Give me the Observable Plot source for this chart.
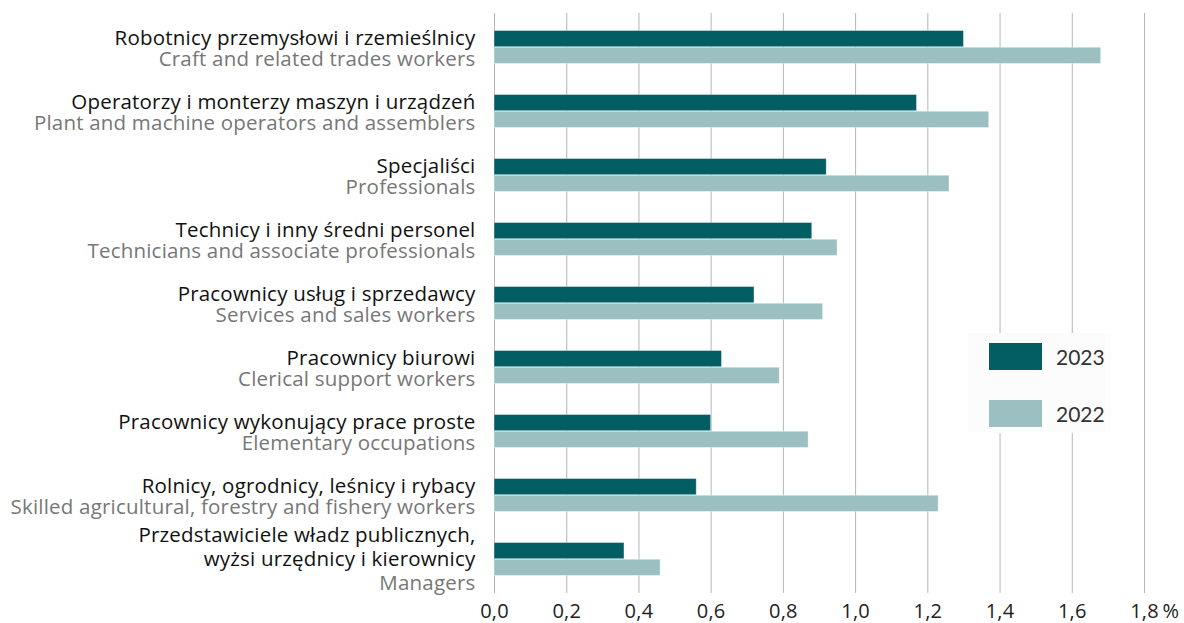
<!DOCTYPE html>
<html>
<head>
<meta charset="utf-8">
<script src="https://cdn.jsdelivr.net/npm/d3@7"></script>
<script src="https://cdn.jsdelivr.net/npm/@observablehq/plot@0.6"></script>
<style>
  html, body { margin: 0; padding: 0; background: #fff; }
  #wrap { position: relative; width: 1184px; height: 623px; }
  #wrap svg text { letter-spacing: 0.2px; }
  #legend {
    position: absolute; left: 968px; top: 333px; width: 143px; height: 100px;
    background: #fcfcfc; font-family: Lato, "Open Sans", sans-serif; font-size: 21px; color: #333;
  }
  .item { position: absolute; left: 21px; display: flex; align-items: center; }
  .sw { width: 53px; height: 27px; margin-right: 14px; }
</style>
</head>
<body>
<div id="wrap"></div>
<script>
const categoriesPL = [
  "Robotnicy przemysłowi i rzemieślnicy",
  "Operatorzy i monterzy maszyn i urządzeń",
  "Specjaliści",
  "Technicy i inny średni personel",
  "Pracownicy usług i sprzedawcy",
  "Pracownicy biurowi",
  "Pracownicy wykonujący prace proste",
  "Rolnicy, ogrodnicy, leśnicy i rybacy",
  "Przedstawiciele władz publicznych,\nwyżsi urzędnicy i kierownicy"
];
const categoriesEN = [
  "Craft and related trades workers",
  "Plant and machine operators and assemblers",
  "Professionals",
  "Technicians and associate professionals",
  "Services and sales workers",
  "Clerical support workers",
  "Elementary occupations",
  "Skilled agricultural, forestry and fishery workers",
  "Managers"
];
const values2023 = [1.30, 1.17, 0.92, 0.88, 0.72, 0.63, 0.60, 0.56, 0.36];
const values2022 = [1.68, 1.37, 1.26, 0.95, 0.91, 0.79, 0.87, 1.23, 0.46];
const years = ["2023", "2022"];
const colors = ["#035e63", "#9cc0c2"];
const xTicks = [0, 0.2, 0.4, 0.6, 0.8, 1.0, 1.2, 1.4, 1.6, 1.8];
const unitLabel = "%";

const rows = categoriesPL.map((c, i) => ({cat: c, en: categoriesEN[i], v2023: values2023[i], v2022: values2022[i], multi: c.includes("\n")}));
const font = "'Open Sans', 'Noto Sans', sans-serif";
const fs = 20.5;

const chart = Plot.plot({
  width: 1184,
  height: 623,
  marginLeft: 494,
  marginRight: 40,
  marginTop: 13,
  marginBottom: 30,
  style: {fontFamily: font, fontSize: fs + "px", color: "#222", background: "white"},
  x: {domain: [xTicks[0], xTicks[xTicks.length - 1]]},
  y: {domain: categoriesPL, padding: 0, axis: null},
  marks: [
    Plot.gridX(xTicks, {stroke: "#b5b5b5", strokeOpacity: 1, strokeWidth: 1}),
    Plot.barX(rows, {x: "v2023", y: "cat", fill: colors[0], insetTop: 15.5, insetBottom: 32.2, stroke: "#fff", strokeOpacity: 0.5, strokeWidth: 0.8}),
    Plot.barX(rows, {x: "v2022", y: "cat", fill: colors[1], insetTop: 32.2, insetBottom: 15.5, stroke: "#fff", strokeOpacity: 0.5, strokeWidth: 0.8}),
    Plot.axisX(xTicks, {tickSize: 0, tickPadding: 10, tickFormat: d => d.toFixed(1).replace(".", ","), fontSize: 20, fill: "#222", label: null}),
    Plot.text([unitLabel], {x: () => xTicks[xTicks.length - 1], frameAnchor: "bottom", lineAnchor: "top", textAnchor: "start", dx: 18, dy: 10, fontSize: 20, fill: "#222"}),
    // Polish labels
    Plot.text(rows.filter(d => !d.multi), {y: "cat", text: "cat", frameAnchor: "left", textAnchor: "end", lineAnchor: "bottom", dx: -19, dy: -3, fill: "#111", fontSize: fs}),
    Plot.text(rows.filter(d => d.multi), {y: "cat", text: "cat", frameAnchor: "left", textAnchor: "end", lineAnchor: "bottom", dx: -19, dy: 6, lineHeight: 1.17, fill: "#111", fontSize: fs}),
    // English labels
    Plot.text(rows.filter(d => !d.multi), {y: "cat", text: "en", frameAnchor: "left", textAnchor: "end", lineAnchor: "bottom", dx: -19, dy: 18.5, fill: "#777", fontSize: fs}),
    Plot.text(rows.filter(d => d.multi), {y: "cat", text: "en", frameAnchor: "left", textAnchor: "end", lineAnchor: "bottom", dx: -19, dy: 30, fill: "#777", fontSize: fs})
  ]
});
const wrap = document.getElementById("wrap");
wrap.appendChild(chart);

const legend = document.createElement("div");
legend.id = "legend";
years.forEach((y, i) => {
  const item = document.createElement("div");
  item.className = "item";
  item.style.top = (10 + i * 57) + "px";
  const sw = document.createElement("div");
  sw.className = "sw";
  sw.style.background = colors[i];
  const t = document.createElement("span");
  t.textContent = y;
  item.appendChild(sw);
  item.appendChild(t);
  legend.appendChild(item);
});
wrap.appendChild(legend);
</script>
</body>
</html>
